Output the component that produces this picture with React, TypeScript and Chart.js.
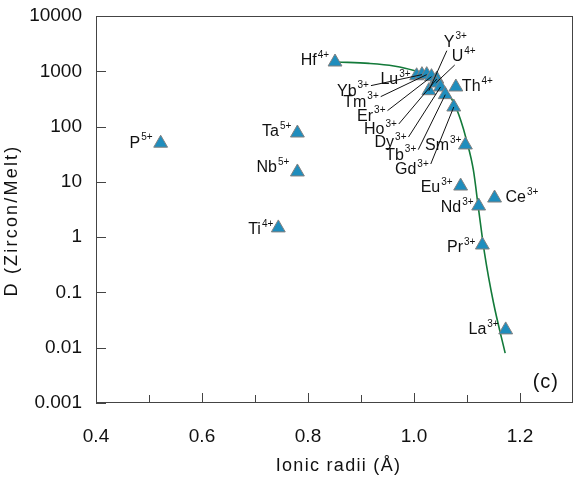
import React, { useEffect, useRef } from 'react';
import { Chart, registerables } from 'chart.js';

Chart.register(...registerables);

// ---- data ----
const elements = ['P', 'Ta', 'Nb', 'Ti', 'Hf', 'Lu', 'Yb', 'Tm', 'Er', 'Ho', 'Y', 'U', 'Dy', 'Tb', 'Gd', 'Th', 'Sm', 'Eu', 'Nd', 'Ce', 'Pr', 'La'];
const charges = ['5+', '5+', '5+', '4+', '4+', '3+', '3+', '3+', '3+', '3+', '3+', '4+', '3+', '3+', '3+', '4+', '3+', '3+', '3+', '3+', '3+', '3+'];
const ionicRadii = [0.522, 0.78, 0.78, 0.744, 0.851, 1.005, 1.015, 1.024, 1.033, 1.043, 1.028, 1.041, 1.05, 1.059, 1.075, 1.079, 1.097, 1.088, 1.122, 1.152, 1.129, 1.173];
const partitionD = [50, 76.5, 15.1, 1.47, 1472, 830, 870, 870, 800, 726, 446, 614, 520, 378, 226, 520, 46.5, 8.4, 3.66, 5.1, 0.72, 0.021];

const curveRadii = [0.855, 0.915, 0.962, 1.0, 1.032, 1.056, 1.075, 1.088, 1.099, 1.112, 1.122, 1.133, 1.15, 1.172];
const curveD = [1470, 1390, 1250, 1030, 760, 500, 270, 131, 57, 16.4, 3.1, 0.52, 0.065, 0.008];

const yTickValues = [0.001, 0.01, 0.1, 1, 10, 100, 1000, 10000];
const xTickValues = [0.4, 0.6, 0.8, 1.0, 1.2];
const xTickMarks = [0.5, 0.6, 0.7, 0.8, 0.9, 1.0, 1.1, 1.2];
const xMajorMarks = [0.6, 0.8, 1.0, 1.2];

const xTitle = 'Ionic radii (Å)';
const yTitle = 'D (Zircon/Melt)';
const panelTag = '(c)';

// ---- label placement (pixel offsets relative to the point) ----
type Place = { dx: number; dy: number; align: 'left' | 'right'; leader?: boolean };
const placement: Place[] = [
  { dx: -8, dy: 0, align: 'right' }, // P
  { dx: -6, dy: -1, align: 'right' }, // Ta
  { dx: -8, dy: -4, align: 'right' }, // Nb
  { dx: -5, dy: 2, align: 'right' }, // Ti
  { dx: -6, dy: -1, align: 'right' }, // Hf
  { dx: -6, dy: 4, align: 'right' }, // Lu
  { dx: -53, dy: 17, align: 'right', leader: true }, // Yb
  { dx: -48, dy: 28, align: 'right', leader: true }, // Tm
  { dx: -46, dy: 40, align: 'right', leader: true }, // Er
  { dx: -40, dy: 51, align: 'right', leader: true }, // Ho
  { dx: 15, dy: -48, align: 'left', leader: true }, // Y
  { dx: 16, dy: -26, align: 'left', leader: true }, // U
  { dx: -34, dy: 56, align: 'right', leader: true }, // Dy
  { dx: -29, dy: 61, align: 'right', leader: true }, // Tb
  { dx: -25, dy: 63, align: 'right', leader: true }, // Gd
  { dx: 6, dy: 0, align: 'left' }, // Th
  { dx: -4, dy: 1, align: 'right' }, // Sm
  { dx: -8, dy: 2, align: 'right' }, // Eu
  { dx: -5, dy: 2, align: 'right' }, // Nd
  { dx: 11, dy: 0, align: 'left' }, // Ce
  { dx: -7, dy: 3, align: 'right' }, // Pr
  { dx: -7, dy: 0, align: 'right' }, // La
];

const FONT = '"Liberation Sans", Arial, sans-serif';
const MAIN_FONT = `16px ${FONT}`;
const SUP_FONT = `10px ${FONT}`;
const TEXT = '#111';

const labelsPlugin = {
  id: 'pointLabels',
  afterDatasetsDraw(chart: any) {
    const ctx = chart.ctx as CanvasRenderingContext2D;
    const meta = chart.getDatasetMeta(0);
    const a = chart.chartArea;
    ctx.save();
    ctx.textBaseline = 'middle';
    ctx.textAlign = 'left';
    ctx.fillStyle = TEXT;
    ctx.strokeStyle = TEXT;
    ctx.lineWidth = 1;
    elements.forEach((el, i) => {
      const pt = meta.data[i];
      if (!pt) return;
      const x = pt.x;
      const y = pt.y;
      const p = placement[i];
      ctx.font = MAIN_FONT;
      const wm = ctx.measureText(el).width;
      ctx.font = SUP_FONT;
      const ws = ctx.measureText(charges[i]).width;
      const total = wm + 1 + ws;
      const tx = p.align === 'right' ? x + p.dx - total : x + p.dx;
      const ty = y + p.dy;
      ctx.font = MAIN_FONT;
      ctx.fillText(el, tx, ty);
      ctx.font = SUP_FONT;
      ctx.fillText(charges[i], tx + wm + 1, ty - 6);
      if (p.leader) {
        const lx = p.align === 'right' ? tx + total + 2 : tx + 3;
        const ly = p.align === 'right' ? ty - 6 : ty + 8;
        ctx.beginPath();
        ctx.moveTo(lx, ly);
        ctx.lineTo(x, y);
        ctx.stroke();
      }
    });

    // panel tag
    (ctx as any).letterSpacing = '1px';
    ctx.font = `20px ${FONT}`;
    ctx.textAlign = 'right';
    ctx.fillText(panelTag, a.right - 14, a.bottom - 21);

    // axis titles
    ctx.font = `18px ${FONT}`;
    ctx.textAlign = 'center';
    (ctx as any).letterSpacing = '1.3px';
    ctx.fillText(xTitle, (a.left + a.right) / 2 + 4, a.bottom + 63);
    (ctx as any).letterSpacing = '2.2px';
    ctx.translate(12, (a.top + a.bottom) / 2 + 11);
    ctx.rotate(-Math.PI / 2);
    ctx.fillText(yTitle, 0, 0);
    ctx.restore();
  },
};

const framePlugin = {
  id: 'frameTicks',
  beforeDatasetsDraw(chart: any) {
    const { ctx, chartArea: a, scales } = chart;
    ctx.save();
    ctx.strokeStyle = '#444';
    ctx.lineWidth = 1;
    ctx.strokeRect(Math.round(a.left) + 0.5, Math.round(a.top) + 0.5, Math.round(a.right - a.left) - 1, Math.round(a.bottom - a.top) - 1);
    ctx.beginPath();
    xTickMarks.forEach((v) => {
      const px = Math.round(scales.x.getPixelForValue(v)) + 0.5;
      const len = xMajorMarks.includes(v) ? 10 : 8;
      ctx.moveTo(px, a.bottom);
      ctx.lineTo(px, a.bottom - len);
    });
    yTickValues.forEach((v) => {
      const py = Math.round(scales.y.getPixelForValue(v)) + 0.5;
      ctx.moveTo(a.left, py);
      ctx.lineTo(a.left + 10, py);
    });
    ctx.stroke();
    ctx.restore();
  },
};

export default function App() {
  const ref = useRef<HTMLCanvasElement>(null);
  useEffect(() => {
    document.body.style.margin = '0';
    const canvas = ref.current;
    if (!canvas) return;
    const scatterData = ionicRadii.map((x, i) => ({ x, y: partitionD[i] }));
    const curveData = curveRadii.map((x, i) => ({ x, y: curveD[i] }));
    const chart = new Chart(canvas, {
      type: 'scatter',
      data: {
        datasets: [
          {
            type: 'scatter',
            data: scatterData,
            pointStyle: 'triangle',
            pointRadius: 8,
            pointHoverRadius: 8,
            backgroundColor: '#1f8dbd',
            borderColor: '#808080',
            borderWidth: 1,
            order: 1,
          },
          {
            type: 'line',
            data: curveData,
            borderColor: '#137a3a',
            borderWidth: 1.6,
            pointRadius: 0,
            fill: false,
            cubicInterpolationMode: 'monotone',
            order: 2,
          } as any,
        ],
      },
      options: {
        responsive: false,
        animation: false,
        layout: { autoPadding: false, padding: { top: 16, right: 3, left: 0, bottom: 0 } },
        plugins: { legend: { display: false }, tooltip: { enabled: false } },
        scales: {
          x: {
            type: 'linear',
            min: 0.4,
            max: 1.3,
            grid: { display: false, drawTicks: false },
            border: { display: false },
            afterBuildTicks: (s: any) => {
              s.ticks = xTickValues.map((v) => ({ value: v }));
            },
            afterFit: (s: any) => {
              s.height = 84;
              s.paddingLeft = 0;
              s.paddingRight = 0;
            },
            ticks: {
              padding: 22,
              color: TEXT,
              font: { size: 19, family: FONT },
              callback: (v: any) => Number(v).toFixed(1),
            },
          },
          y: {
            type: 'logarithmic',
            min: 0.001,
            max: 10000,
            grid: { display: false, drawTicks: false },
            border: { display: false },
            afterBuildTicks: (s: any) => {
              s.ticks = yTickValues.map((v) => ({ value: v }));
            },
            afterFit: (s: any) => {
              s.width = 96;
              s.paddingTop = 0;
              s.paddingBottom = 0;
            },
            ticks: {
              padding: 14,
              color: TEXT,
              font: { size: 19, family: FONT },
              callback: (v: any) => String(v),
            },
          },
        },
      },
      plugins: [framePlugin, labelsPlugin],
    });
    return () => chart.destroy();
  }, []);
  return (
    <div style={{ width: 576, height: 487 }}>
      <canvas ref={ref} width={576} height={487} />
    </div>
  );
}
